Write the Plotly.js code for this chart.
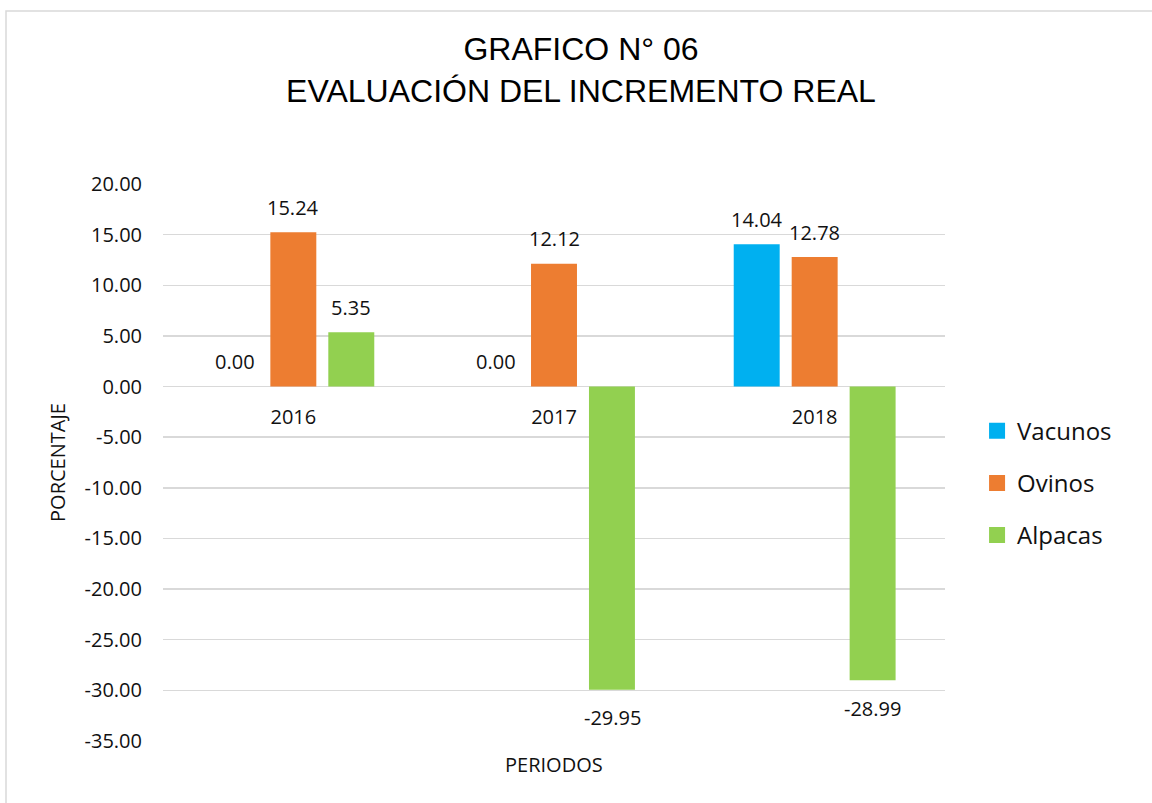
<!DOCTYPE html>
<html>
<head>
<meta charset="utf-8">
<script src="https://cdn.plot.ly/plotly-3.0.1.min.js"></script>
<style>html,body{margin:0;padding:0;background:#fff;}#chart{width:1152px;height:803px;}</style>
</head>
<body>
<div id="chart"></div>
<script>
const categories = ['2016', '2017', '2018'];
const seriesNames = ['Vacunos', 'Ovinos', 'Alpacas'];
const vacunos = [0.00, 0.00, 14.04];
const ovinos = [15.24, 12.12, 12.78];
const alpacas = [5.35, -29.95, -28.99];
const yTickVals = [20, 15, 10, 5, 0, -5, -10, -15, -20, -25, -30, -35];
const yTickText = ['20.00', '15.00', '10.00', '5.00', '0.00', '-5.00', '-10.00', '-15.00', '-20.00', '-25.00', '-30.00', '-35.00'];

const colors = ['#00B0F0', '#ED7D31', '#92D050'];
const seriesValues = [vacunos, ovinos, alpacas];
const labelFont = {family: 'Open Sans, sans-serif', size: 20, color: '#111'};

const traces = [];
seriesValues.forEach((vals, i) => {
  traces.push({
    type: 'bar', x: categories, y: vals, name: seriesNames[i],
    marker: {color: colors[i]}, showlegend: false, hoverinfo: 'x+y'
  });
});
// legend entries (larger square swatches)
seriesValues.forEach((vals, i) => {
  traces.push({
    type: 'scatter', mode: 'markers', x: [categories[0]], y: [null], name: seriesNames[i],
    legendgroup: 'g' + i,
    marker: {color: colors[i], symbol: 'square', size: 18}, showlegend: true
  });
});

// data labels built from arrays
const annotations = [];
seriesValues.forEach((vals, i) => {
  vals.forEach((v, j) => {
    annotations.push({
      x: j, y: v, xref: 'x', yref: 'y',
      text: v.toFixed(2), showarrow: false,
      xshift: (i - 1) * 58, yshift: v >= 0 ? 25 : -28,
      font: labelFont
    });
  });
});
annotations.push({
  x: 0.5, y: -0.043, xref: 'paper', yref: 'paper', yanchor: 'middle',
  text: 'PERIODOS', showarrow: false, font: labelFont
});

const yMin = -35, yMax = 20;
const zeroFrac = (0 - yMin) / (yMax - yMin);

const layout = {
  width: 1152, height: 803,
  margin: {l: 163, r: 207, t: 184, b: 62},
  paper_bgcolor: '#fff', plot_bgcolor: '#fff',
  title: {
    text: 'GRAFICO N° 06<br>EVALUACIÓN DEL INCREMENTO REAL',
    font: {family: 'Liberation Sans, Arial, sans-serif', size: 32, color: '#000'},
    x: 581 / 1152, xref: 'container', y: 1 - 60 / 803, yref: 'container', yanchor: 'top'
  },
  barmode: 'group', bargap: 0.333, bargroupgap: 0.207,
  xaxis: {
    type: 'category', categoryorder: 'array', categoryarray: categories,
    range: [-0.5, categories.length - 0.5], autorange: false,
    anchor: 'free', position: zeroFrac,
    showgrid: false, showline: false, zeroline: false, ticks: '',
    ticklabelstandoff: 16,
    tickfont: labelFont, fixedrange: true
  },
  yaxis: {
    range: [yMin, yMax], autorange: false, tickvals: yTickVals, ticktext: yTickText,
    showgrid: true, gridcolor: '#d9d9d9', gridwidth: 1.5,
    zeroline: true, zerolinecolor: '#d9d9d9', zerolinewidth: 1.5,
    showline: false, ticks: '', ticklabelstandoff: 20,
    tickfont: labelFont,
    title: {text: 'PORCENTAJE', font: labelFont, standoff: 13},
    automargin: false, fixedrange: true
  },
  legend: {
    x: 1.041, xanchor: 'left', y: 0.463, yanchor: 'middle',
    font: {family: 'Open Sans, sans-serif', size: 24, color: '#111'},
    traceorder: 'grouped', tracegroupgap: 18, bgcolor: 'rgba(0,0,0,0)'
  },
  annotations: annotations,
  shapes: [{
    type: 'rect', xref: 'paper', yref: 'paper',
    x0: (6 - 163) / 782, x1: 1.4, y0: -0.3, y1: (741 - 11) / 557,
    line: {color: '#d9d9d9', width: 1.5}, fillcolor: 'rgba(0,0,0,0)', layer: 'below'
  }]
};

Plotly.newPlot('chart', traces, layout, {displayModeBar: false, staticPlot: true});
</script>
</body>
</html>
